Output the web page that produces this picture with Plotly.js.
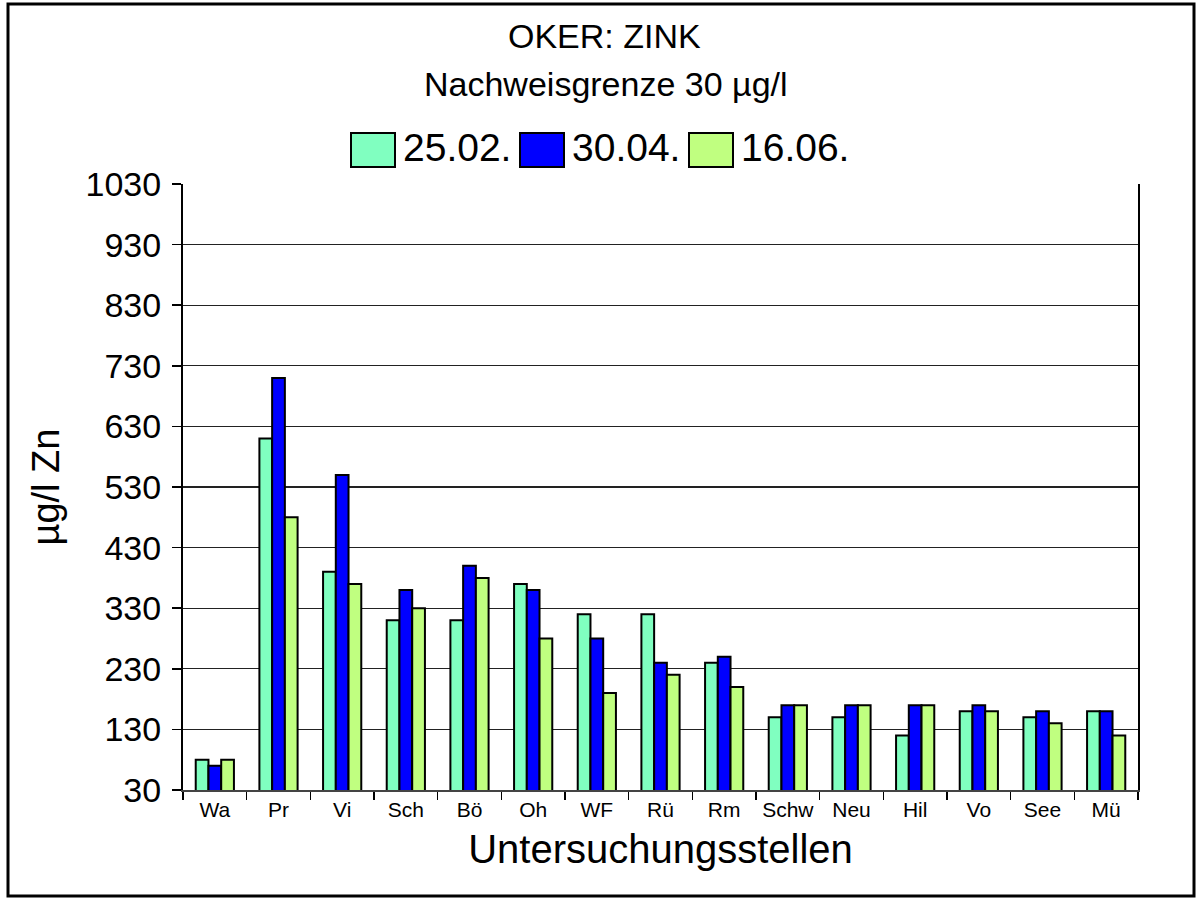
<!DOCTYPE html>
<html>
<head>
<meta charset="utf-8">
<script src="https://cdn.plot.ly/plotly-3.0.1.min.js"></script>
<style>html,body{margin:0;padding:0;background:#fff;}#chart{width:1197px;height:898px;}</style>
</head>
<body>
<div id="chart"></div>
<script>
const categories = ["Wa","Pr","Vi","Sch","Bö","Oh","WF","Rü","Rm","Schw","Neu","Hil","Vo","See","Mü"];
const seriesNames = ["25.02.","30.04.","16.06."];
const s1 = [80,610,390,310,310,370,320,320,240,150,150,120,160,150,160];
const s2 = [70,710,550,360,400,360,280,240,250,170,170,170,170,160,160];
const s3 = [80,480,370,330,380,280,190,220,200,170,170,170,160,140,120];
const colors = ["#80FFC0","#0000FF","#C0FF80"];
const yTicks = [30,130,230,330,430,530,630,730,830,930,1030];

const W = 1197, H = 898;
const mL = 183, mR = 59, mT = 184, mB = 108;
const pw = W - mL - mR, ph = H - mT - mB;
const px = x => (x - mL) / pw;
const py = y => (H - mB - y) / ph;

const allSeries = [s1, s2, s3];
const traces = allSeries.map((vals, i) => ({
  type: 'bar',
  name: seriesNames[i],
  x: categories,
  y: vals,
  base: 0,
  marker: {color: colors[i], line: {color: '#000', width: 2}},
  showlegend: false,
  hoverinfo: 'x+y'
}));

const font = "Liberation Sans, Arial, sans-serif";

// custom legend (large boxes like the reference)
const legendBoxes = [[351,395],[520,564],[689,733]];
const shapes = [];
const annotations = [];
legendBoxes.forEach((b, i) => {
  shapes.push({type:'rect', xref:'paper', yref:'paper', x0:px(b[0]), x1:px(b[1]), y0:py(167), y1:py(133),
    fillcolor: colors[i], line:{color:'#000', width:2}});
  annotations.push({xref:'paper', yref:'paper', x:px(b[1]+6), y:py(148), xanchor:'left', yanchor:'middle',
    text: seriesNames[i], showarrow:false, font:{family:font, size:39, color:'#000'}});
});
// outer frame
shapes.push({type:'rect', xref:'paper', yref:'paper', x0:px(8), x1:px(1194), y0:py(896), y1:py(4),
  line:{color:'#000', width:3}, fillcolor:'rgba(0,0,0,0)', layer:'above'});

annotations.push({xref:'paper', yref:'paper', x:px(604), y:py(36), xanchor:'center', yanchor:'middle',
  text:'OKER: ZINK', showarrow:false, font:{family:font, size:34, color:'#000'}});
annotations.push({xref:'paper', yref:'paper', x:px(606), y:py(84), xanchor:'center', yanchor:'middle',
  text:'Nachweisgrenze 30 µg/l', showarrow:false, font:{family:font, size:34, color:'#000'}});

const layout = {
  width: W, height: H,
  margin: {l: mL, r: mR, t: mT, b: mB, pad: 0},
  paper_bgcolor: '#fff', plot_bgcolor: '#fff',
  showlegend: false,
  barmode: 'group', bargap: 0.40, bargroupgap: 0,
  font: {family: font, color: '#000'},
  xaxis: {
    type: 'category',
    tickson: 'boundaries', ticks: 'outside', ticklen: 8, tickwidth: 1.5, tickcolor: '#000',
    showline: true, linecolor: '#444', linewidth: 1.5,
    showgrid: false, zeroline: false,
    tickfont: {family: font, size: 21, color: '#000'},
    title: {text: 'Untersuchungsstellen', font: {family: font, size: 40, color: '#000'}, standoff: 15},
    automargin: false
  },
  xaxis2: {
    overlaying: 'x', anchor: 'y', type: 'linear', range: [-0.5, categories.length - 0.5],
    tickmode: 'linear', tick0: -0.5, dtick: 1,
    ticks: 'inside', ticklen: 13, tickwidth: 1.5, tickcolor: '#000',
    showticklabels: false, showgrid: false, zeroline: false, showline: false
  },
  yaxis: {
    range: [yTicks[0], yTicks[yTicks.length-1]],
    tickvals: yTicks, ticktext: yTicks.map(String),
    ticks: 'outside', ticklen: 9, tickwidth: 1.5, tickcolor: '#000',
    ticklabelstandoff: 4,
    showline: true, linecolor: '#000', linewidth: 2, mirror: true,
    showgrid: true, gridcolor: '#222', gridwidth: 1.3, zeroline: false,
    tickfont: {family: font, size: 34, color: '#000'},
    title: {text: 'µg/l Zn', font: {family: font, size: 38, color: '#000'}, standoff: 14},
    automargin: false
  },
  shapes: shapes,
  annotations: annotations
};

Plotly.newPlot('chart', traces, layout, {displayModeBar: false, staticPlot: true});
</script>
</body>
</html>
